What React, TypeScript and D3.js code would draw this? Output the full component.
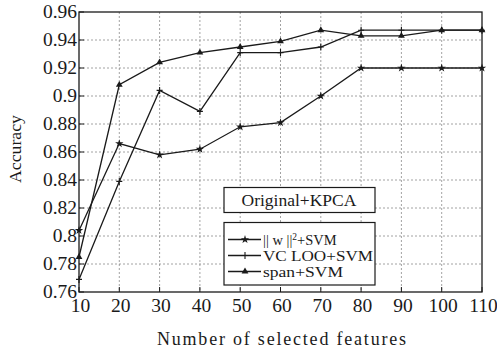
import * as d3 from 'd3'

const features = [10, 20, 30, 40, 50, 60, 70, 80, 90, 100, 110]
const wNormSvm = [0.804, 0.866, 0.858, 0.862, 0.878, 0.881, 0.9, 0.92, 0.92, 0.92, 0.92]
const vcLooSvm = [0.769, 0.839, 0.904, 0.889, 0.931, 0.931, 0.935, 0.947, 0.947, 0.947, 0.947]
const spanSvm = [0.785, 0.908, 0.924, 0.931, 0.935, 0.939, 0.947, 0.943, 0.943, 0.947, 0.947]
const yTicks = [0.76, 0.78, 0.8, 0.82, 0.84, 0.86, 0.88, 0.9, 0.92, 0.94, 0.96]
const legendLabels = ['|| w ||', 'VC  LOO+SVM', 'span+SVM']

type MarkerKind = 'star' | 'plus' | 'triangle'

const FONT = 'Liberation Serif, Times New Roman, Times, serif'
const INK = '#1a1a1a'

function Marker({ kind, x, y }: { kind: MarkerKind; x: number; y: number }) {
  if (kind === 'plus') {
    return <path d={`M${x - 3},${y}H${x + 3}M${x},${y - 3.5}V${y + 3.5}`} stroke={INK} strokeWidth={1.1} />
  }
  const sym = kind === 'star' ? d3.symbolStar : d3.symbolTriangle
  const size = kind === 'star' ? 22 : 20
  return <path d={d3.symbol().type(sym).size(size)() ?? ''} transform={`translate(${x},${y})`} fill={INK} />
}

export default function App() {
  const width = 497
  const height = 353
  const margin = { top: 12, right: 15, bottom: 61, left: 79 }
  const x = d3.scaleLinear().domain([10, 110]).range([margin.left, width - margin.right])
  const y = d3.scaleLinear().domain([0.76, 0.96]).range([height - margin.bottom, margin.top])

  const series: { values: number[]; kind: MarkerKind }[] = [
    { values: wNormSvm, kind: 'star' },
    { values: vcLooSvm, kind: 'plus' },
    { values: spanSvm, kind: 'triangle' },
  ]

  const line = d3.line<number>().x((_, i) => x(features[i])).y(d => y(d))

  const x0 = margin.left
  const x1 = width - margin.right
  const y0 = margin.top
  const y1 = height - margin.bottom

  const fmt = (v: number) => String(+v.toFixed(2))

  return (
    <svg width={width} height={height} style={{ position: 'absolute', left: 0, top: 0, background: '#fff', fontFamily: FONT }}>
      <rect width={width} height={height} fill="#fff" />
      {/* grid */}
      {features.slice(1, -1).map(f => (
        <line key={'gx' + f} x1={x(f)} x2={x(f)} y1={y0} y2={y1} stroke="#8a8a8a" strokeWidth={0.8} strokeDasharray="2,2" />
      ))}
      {yTicks.slice(1, -1).map(t => (
        <line key={'gy' + t} x1={x0} x2={x1} y1={y(t)} y2={y(t)} stroke="#8a8a8a" strokeWidth={0.8} strokeDasharray="2,2" />
      ))}
      {/* ticks, inward */}
      {yTicks.map(t => (
        <line key={'ty' + t} x1={x0} x2={x0 + 5} y1={y(t)} y2={y(t)} stroke={INK} strokeWidth={1} />
      ))}
      {features.map(f => (
        <line key={'tx' + f} x1={x(f)} x2={x(f)} y1={y1} y2={y1 - 5} stroke={INK} strokeWidth={1} />
      ))}
      <rect x={x0} y={y0} width={x1 - x0} height={y1 - y0} fill="none" stroke={INK} strokeWidth={1.3} />

      {/* series */}
      {series.map((s, si) => (
        <g key={si}>
          <path d={line(s.values) ?? ''} fill="none" stroke={INK} strokeWidth={1.3} />
          {s.values.map((v, i) => (
            <Marker key={i} kind={s.kind} x={x(features[i])} y={y(v)} />
          ))}
        </g>
      ))}

      {/* tick labels */}
      {yTicks.map(t => (
        <text key={'ly' + t} x={x0 - 2} y={y(t) + 6} textAnchor="end" fontSize={19.5} fill={INK}>{fmt(t)}</text>
      ))}
      {features.map(f => (
        <text key={'lx' + f} x={x(f) + 1.5} y={y1 + 20} textAnchor="middle" fontSize={19.5} fill={INK}>{f}</text>
      ))}

      <text x={157} y={345} fontSize={18} fill={INK} textLength={249} lengthAdjust="spacing">Number  of  selected  features</text>
      <text transform={`translate(21,${149}) rotate(-90)`} textAnchor="middle" fontSize={17} fill={INK}
        textLength={68} lengthAdjust="spacingAndGlyphs">Accuracy</text>

      {/* legend */}
      <rect x={224} y={187.5} width={151} height={25} fill="#fff" stroke={INK} strokeWidth={1.2} />
      <text x={241.5} y={205.5} fontSize={17.5} fill={INK}>Original+KPCA</text>
      <rect x={224} y={222.5} width={151} height={62.5} fill="#fff" stroke={INK} strokeWidth={1.2} />
      {series.map((s, i) => {
        const ly = 239.5 + i * 16
        return (
          <g key={'lg' + i}>
            <line x1={228} x2={261} y1={ly} y2={ly} stroke={INK} strokeWidth={1.3} />
            <Marker kind={s.kind} x={245} y={ly} />
            {i === 0 ? (
              <text x={263} y={ly + 5} fontSize={14.5} fill={INK}>
                {legendLabels[0]}
                <tspan fontSize={9.5} dy={-5}>2</tspan>
                <tspan dy={5}>+SVM</tspan>
              </text>
            ) : (
              <text x={263} y={ly + 5} fontSize={14.5} fill={INK}
                textLength={i === 1 ? 110 : 80} lengthAdjust="spacingAndGlyphs">{legendLabels[i]}</text>
            )}
          </g>
        )
      })}
    </svg>
  )
}
